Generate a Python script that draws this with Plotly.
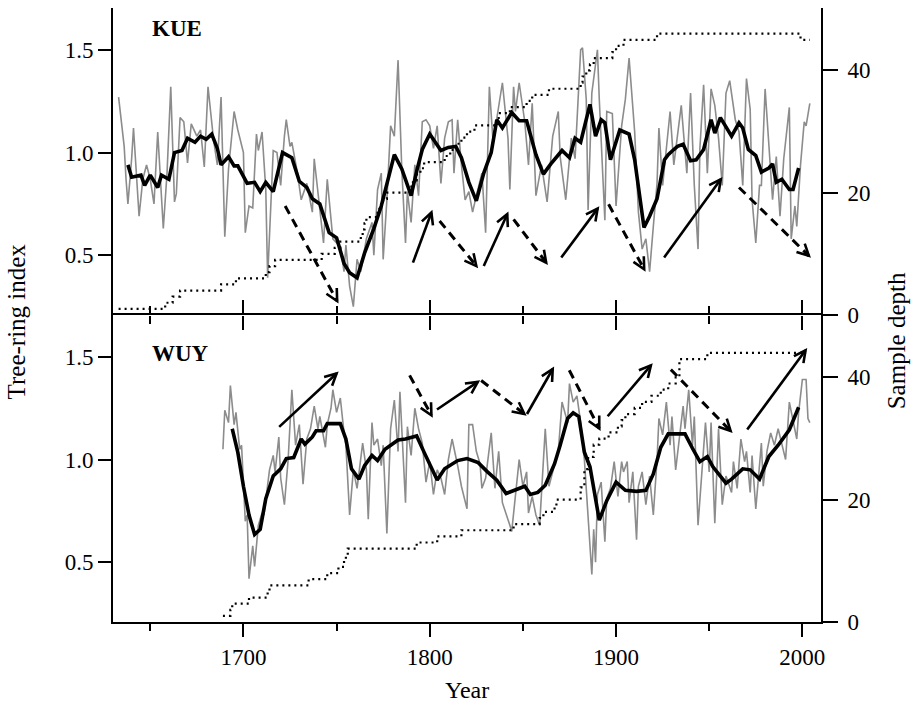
import math
import plotly.graph_objects as go

FONT = "Liberation Serif"

# ---------------- KUE (upper panel) ----------------
kue_years = [1633, 1636, 1637, 1638, 1640, 1641, 1644, 1646, 1648, 1650, 1652, 1654, 1657, 1659,
             1661, 1663, 1664, 1666, 1668, 1670, 1672, 1675, 1677, 1679, 1681, 1684, 1686, 1688,
             1690, 1692, 1695, 1697, 1700, 1701, 1703, 1705, 1707, 1708, 1710, 1712, 1713, 1716,
             1718, 1720, 1722, 1723, 1725, 1726, 1729, 1731, 1734, 1737, 1738, 1741, 1743, 1745,
             1748, 1752, 1754, 1755, 1757, 1759, 1761, 1763, 1766, 1769, 1770, 1772, 1774, 1775,
             1777, 1779, 1781, 1783, 1785, 1787, 1788, 1790, 1792, 1794, 1796, 1798, 1800, 1802,
             1804, 1806, 1808, 1810, 1812, 1813, 1815, 1817, 1819, 1821, 1823, 1825, 1828, 1830,
             1832, 1834, 1836, 1839, 1842, 1843, 1845, 1846, 1848, 1851, 1853, 1855, 1857, 1860,
             1863, 1866, 1869, 1870, 1873, 1876, 1878, 1881, 1882, 1884, 1885, 1887, 1890, 1891,
             1894, 1895, 1898, 1900, 1903, 1905, 1907, 1910, 1912, 1914, 1916, 1918, 1920, 1922,
             1923, 1925, 1927, 1929, 1931, 1933, 1935, 1938, 1940, 1942, 1944, 1945, 1947, 1949,
             1951, 1953, 1955, 1957, 1959, 1961, 1964, 1966, 1968, 1970, 1972, 1973, 1975, 1977,
             1978, 1980, 1982, 1984, 1986, 1988, 1990, 1993, 1994, 1996, 1997, 1999, 2001, 2002, 2004]
kue_index = [1.27, 1.03, 0.87, 0.75, 0.97, 1.12, 0.69, 0.87, 0.94, 0.87, 0.75, 1.10, 0.63, 0.90,
             1.32, 0.76, 0.80, 1.17, 1.15, 0.95, 1.14, 1.08, 1.11, 0.93, 1.32, 1.06, 0.94, 1.27,
             0.59, 0.92, 1.20, 1.11, 1.00, 0.61, 0.74, 0.73, 1.09, 1.01, 1.10, 0.82, 0.39, 1.01,
             1.00, 0.84, 1.08, 1.16, 1.03, 1.05, 0.90, 0.77, 0.85, 0.71, 0.97, 0.71, 0.56, 0.87,
             0.58, 0.54, 0.42, 0.55, 0.35, 0.25, 0.48, 0.42, 0.58, 0.66, 0.50, 0.82, 0.90, 0.48,
             0.77, 1.13, 1.08, 1.45, 0.92, 0.56, 0.81, 0.66, 0.94, 0.79, 1.15, 1.16, 1.13, 1.02,
             1.13, 0.85, 1.07, 1.15, 1.16, 0.90, 1.16, 0.94, 0.77, 0.81, 0.71, 0.79, 0.90, 0.61,
             1.32, 1.05, 1.17, 1.34, 1.07, 0.82, 1.32, 1.20, 1.34, 1.15, 0.94, 1.24, 0.79, 0.94,
             0.76, 1.08, 1.20, 0.98, 0.77, 1.07, 0.97, 1.50, 1.51, 1.26, 0.72, 1.29, 1.50, 1.26,
             0.67, 1.20, 1.19, 0.74, 1.13, 1.26, 1.46, 1.10, 0.71, 0.53, 0.58, 0.42, 0.64, 0.85,
             1.12, 0.84, 1.02, 1.20, 0.94, 1.10, 1.23, 0.90, 1.29, 0.84, 0.53, 1.02, 1.33, 0.90,
             1.31, 1.23, 1.07, 0.84, 1.29, 1.35, 1.16, 1.10, 0.84, 1.36, 1.21, 0.77, 0.56, 0.84,
             0.84, 1.31, 1.05, 0.77, 0.98, 0.69, 0.97, 1.22, 0.58, 0.74, 0.64, 0.94, 1.15, 1.13, 1.24]

kue_smooth_years = [1638, 1640, 1645, 1647, 1650, 1654, 1656, 1660, 1663, 1667, 1670, 1674, 1677,
                    1680, 1683, 1686, 1688, 1692, 1695, 1697, 1702, 1706, 1709, 1712, 1716, 1721,
                    1726, 1730, 1734, 1737, 1741, 1746, 1750, 1754, 1757, 1761, 1765, 1770, 1774,
                    1777, 1781, 1785, 1790, 1793, 1796, 1800, 1803, 1806, 1810, 1814, 1817, 1821,
                    1825, 1829, 1833, 1836, 1839, 1844, 1848, 1852, 1857, 1861, 1865, 1871, 1875,
                    1878, 1881, 1886, 1889, 1892, 1894, 1897, 1902, 1907, 1910, 1915, 1918, 1922,
                    1926, 1928, 1931, 1933, 1936, 1940, 1943, 1947, 1951, 1953, 1956, 1962, 1966,
                    1968, 1971, 1975, 1978, 1982, 1984, 1986, 1989, 1993, 1995, 1998]
kue_smooth = [0.94, 0.88, 0.89, 0.84, 0.89, 0.83, 0.89, 0.87, 1.00, 1.01, 1.07, 1.05, 1.08,
              1.065, 1.09, 1.02, 0.94, 0.98, 0.935, 0.935, 0.85, 0.855, 0.81, 0.855, 0.81, 1.00,
              0.975, 0.86, 0.83, 0.775, 0.75, 0.61, 0.585, 0.46, 0.415, 0.39, 0.51, 0.63, 0.74,
              0.85, 0.99, 0.92, 0.79, 0.91, 1.015, 1.09, 1.05, 1.01, 1.025, 1.03, 0.975, 0.855,
              0.765, 0.90, 1.00, 1.16, 1.12, 1.195, 1.155, 1.155, 0.99, 0.895, 0.945, 1.01, 0.975,
              1.07, 1.05, 1.235, 1.08, 1.16, 1.145, 0.965, 1.11, 1.09, 0.965, 0.635, 0.69, 0.775,
              0.965, 0.99, 1.015, 1.03, 1.04, 0.96, 0.965, 1.015, 1.16, 1.095, 1.17, 1.08, 1.145,
              1.12, 1.015, 0.985, 0.905, 0.925, 0.945, 0.855, 0.87, 0.82, 0.82, 0.925]

kue_depth_years = [1633, 1658, 1662, 1666, 1688, 1696, 1712, 1714, 1717, 1742, 1749, 1752, 1763,
                   1764, 1765, 1766, 1772, 1773, 1775, 1777, 1789, 1791, 1793, 1795, 1797, 1808,
                   1811, 1814, 1817, 1820, 1824, 1837, 1843, 1852, 1855, 1864, 1881, 1882, 1884,
                   1886, 1888, 1898, 1900, 1904, 1922, 1999, 2004]
kue_depth = [1, 2, 3, 4, 5, 6, 7, 8, 9, 10, 11, 12, 13, 14, 15, 16, 17, 18, 19, 20, 21, 22, 23,
             24, 25, 26, 27, 28, 29, 30, 31, 33, 34, 35, 36, 37, 38, 39, 40, 41, 42, 43, 44, 45,
             46, 45, 45]

# arrows: (tail year, tail index, head year, head index, dashed)
kue_arrows = [(1722.4, 0.740, 1750.3, 0.277, True),
              (1791.0, 0.464, 1800.9, 0.708, False),
              (1805.3, 0.667, 1825.0, 0.448, True),
              (1829.0, 0.448, 1841.6, 0.700, False),
              (1845.0, 0.675, 1862.5, 0.464, True),
              (1870.6, 0.489, 1890.1, 0.727, False),
              (1896.0, 0.748, 1915.1, 0.432, True),
              (1925.8, 0.489, 1956.2, 0.870, False),
              (1966.0, 0.830, 2003.5, 0.497, True)]

# ---------------- WUY (lower panel) ----------------
wuy_years = [1689, 1690, 1692, 1693, 1695, 1696, 1698, 1699, 1701, 1702, 1703, 1705, 1706, 1708,
             1710, 1711, 1714, 1716, 1717, 1719, 1720, 1722, 1724, 1726, 1728, 1730, 1732, 1734,
             1736, 1738, 1740, 1741, 1744, 1745, 1747, 1748, 1750, 1752, 1754, 1755, 1757, 1759,
             1761, 1764, 1766, 1767, 1769, 1770, 1772, 1774, 1775, 1777, 1779, 1781, 1783, 1784,
             1787, 1788, 1790, 1792, 1794, 1796, 1798, 1800, 1802, 1804, 1806, 1808, 1810, 1812,
             1815, 1817, 1820, 1821, 1823, 1825, 1827, 1828, 1830, 1833, 1835, 1837, 1839, 1841,
             1843, 1844, 1846, 1848, 1850, 1852, 1853, 1855, 1857, 1859, 1862, 1864, 1866, 1869,
             1871, 1874, 1875, 1877, 1879, 1881, 1883, 1885, 1887, 1888, 1889, 1890, 1892, 1894,
             1895, 1897, 1899, 1901, 1903, 1904, 1906, 1907, 1909, 1911, 1912, 1914, 1916, 1918,
             1920, 1922, 1923, 1925, 1927, 1929, 1930, 1932, 1934, 1936, 1937, 1939, 1941, 1942,
             1944, 1946, 1948, 1950, 1951, 1953, 1955, 1957, 1959, 1962, 1963, 1965, 1967, 1969,
             1970, 1972, 1973, 1975, 1978, 1979, 1981, 1983, 1985, 1987, 1989, 1991, 1993, 1995,
             1997, 1998, 2000, 2002, 2003, 2004]
wuy_index = [1.05, 1.24, 1.18, 1.36, 1.17, 1.23, 1.05, 1.07, 0.70, 0.73, 0.42, 0.58, 0.48, 0.68,
             0.74, 0.73, 0.95, 1.02, 0.94, 1.11, 0.91, 0.78, 1.00, 1.34, 1.07, 1.17, 0.88, 1.10,
             1.15, 1.26, 1.15, 1.21, 1.06, 1.17, 1.25, 1.34, 1.23, 1.30, 1.13, 1.07, 0.73, 0.95,
             0.86, 1.08, 0.95, 0.71, 1.18, 1.07, 1.10, 0.97, 1.07, 0.64, 1.15, 1.29, 1.04, 1.33,
             0.79, 1.16, 1.02, 1.25, 1.15, 1.08, 0.89, 0.99, 0.83, 0.95, 0.91, 0.83, 1.00, 1.10,
             0.97, 0.87, 0.76, 1.17, 1.17, 1.04, 0.98, 0.86, 0.91, 1.13, 0.86, 1.04, 0.79, 0.74,
             0.68, 0.65, 0.84, 1.00, 0.87, 0.94, 0.74, 0.82, 0.73, 0.68, 1.15, 0.87, 0.94, 1.04,
             1.28, 1.18, 1.37, 1.28, 1.31, 1.18, 1.00, 0.74, 0.44, 0.66, 0.50, 0.83, 0.89, 0.60,
             0.81, 0.86, 0.99, 0.82, 0.99, 0.94, 0.99, 0.79, 0.94, 0.61, 0.87, 0.94, 0.78, 0.92,
             0.73, 1.00, 1.20, 1.12, 1.28, 1.07, 1.21, 0.95, 1.10, 1.26, 1.15, 1.34, 1.07, 1.21,
             0.68, 0.95, 1.18, 0.94, 1.18, 0.69, 1.15, 0.78, 0.92, 0.84, 0.99, 0.86, 1.10, 0.99,
             1.04, 0.84, 1.02, 0.76, 1.08, 0.87, 1.04, 1.13, 1.07, 1.15, 1.08, 1.00, 1.28, 1.18,
             1.10, 1.23, 1.39, 1.39, 1.20, 1.18]

wuy_smooth_years = [1694, 1697, 1700, 1703, 1706, 1709, 1712, 1716, 1720, 1723, 1727, 1731, 1733,
                    1737, 1739, 1743, 1745, 1752, 1755, 1758, 1762, 1765, 1769, 1772, 1776, 1779,
                    1783, 1787, 1793, 1797, 1801, 1804, 1808, 1815, 1820, 1826, 1831, 1836, 1841,
                    1845, 1851, 1854, 1858, 1862, 1867, 1870, 1874, 1877, 1880, 1883, 1886, 1891,
                    1895, 1900, 1905, 1911, 1916, 1920, 1924, 1928, 1937, 1941, 1945, 1949, 1952,
                    1959, 1962, 1968, 1972, 1977, 1982, 1987, 1993, 1998]
wuy_smooth = [1.15, 1.035, 0.87, 0.73, 0.635, 0.66, 0.81, 0.92, 0.955, 1.005, 1.01, 1.10, 1.075,
              1.11, 1.14, 1.14, 1.175, 1.175, 1.10, 0.955, 0.905, 0.97, 1.02, 0.995, 1.05, 1.07,
              1.095, 1.10, 1.115, 1.035, 0.955, 0.90, 0.955, 0.995, 1.005, 0.985, 0.94, 0.90,
              0.835, 0.85, 0.87, 0.83, 0.84, 0.875, 0.98, 1.07, 1.20, 1.228, 1.21, 1.036, 0.965,
              0.705, 0.80, 0.89, 0.85, 0.845, 0.85, 0.93, 1.06, 1.125, 1.125, 1.055, 0.99, 1.015,
              0.965, 0.885, 0.905, 0.955, 0.95, 0.905, 1.015, 1.07, 1.145, 1.255]

wuy_depth_years = [1689, 1693, 1694, 1703, 1713, 1714, 1735, 1745, 1751, 1754, 1755, 1756, 1793,
                   1804, 1817, 1845, 1859, 1861, 1867, 1868, 1881, 1883, 1885, 1888, 1891, 1896,
                   1901, 1903, 1905, 1910, 1914, 1919, 1924, 1928, 1932, 1934, 1949, 2002]
wuy_depth = [1, 2, 3, 4, 5, 6, 7, 8, 9, 10, 11, 12, 13, 14, 15, 16, 17, 18, 19, 20, 22, 25, 27,
             29, 30, 31, 32, 33, 34, 35, 36, 37, 38, 39, 40, 43, 44, 44]

wuy_arrows = [(1719.2, 1.159, 1750.0, 1.419, False),
              (1789.2, 1.410, 1800.9, 1.216, True),
              (1803.9, 1.244, 1825.8, 1.378, False),
              (1827.6, 1.385, 1850.8, 1.222, True),
              (1852.2, 1.222, 1866.0, 1.441, False),
              (1874.9, 1.435, 1891.0, 1.151, True),
              (1895.5, 1.211, 1918.7, 1.459, False),
              (1929.4, 1.438, 1961.5, 1.139, True),
              (1970.4, 1.146, 2001.7, 1.532, False)]

x_range = [1630, 2010]
idx_range = [0.209, 1.704]
depth_range = [0, 50.2]
idx_ticks = [0.5, 1.0, 1.5]
depth_ticks = [0, 20, 40]

W, H = 914, 715
ML, MR, MT, MB = 113, 93, 8, 93
GREY = "#8c8c8c"

fig = go.Figure()

def add_panel(years, idx, syears, smooth, dyears, depth, xa, ya, yd):
    fig.add_trace(go.Scatter(x=years, y=idx, mode="lines", xaxis=xa, yaxis=ya,
                             line=dict(color=GREY, width=1.6), showlegend=False, hoverinfo="skip"))
    fig.add_trace(go.Scatter(x=dyears, y=depth, mode="lines", xaxis=xa, yaxis=yd,
                             line=dict(color="black", width=2.2, dash="2px,4px", shape="hv"),
                             showlegend=False, hoverinfo="skip"))
    fig.add_trace(go.Scatter(x=syears, y=smooth, mode="lines", xaxis=xa, yaxis=ya,
                             line=dict(color="black", width=3.6), showlegend=False, hoverinfo="skip"))

add_panel(kue_years, kue_index, kue_smooth_years, kue_smooth, kue_depth_years, kue_depth, "x", "y", "y2")
add_panel(wuy_years, wuy_index, wuy_smooth_years, wuy_smooth, wuy_depth_years, wuy_depth, "x2", "y3", "y4")

# pixel scales (used only to give arrowheads a fixed on-screen size/angle)
sx = (W - ML - MR) / (x_range[1] - x_range[0])
sy = ((H - MT - MB) / 2) / (idx_range[1] - idx_range[0])
HEAD_LEN = 13.0
HEAD_ANG = math.radians(27)

shapes = []

def add_arrows(arrows, xref, yref):
    for (x0, y0, x1, y1, dashed) in arrows:
        shapes.append(dict(type="line", xref=xref, yref=yref, x0=x0, y0=y0, x1=x1, y1=y1,
                           line=dict(color="black", width=3 if dashed else 2.6,
                                     dash="9px,6px" if dashed else "solid"), layer="above"))
        ang = math.atan2((y1 - y0) * sy, (x1 - x0) * sx)
        pts = []
        for s in (1, -1):
            a = ang + math.pi + s * HEAD_ANG
            pts.append((x1 + HEAD_LEN * math.cos(a) / sx, y1 + HEAD_LEN * math.sin(a) / sy))
        path = "M {:.4f},{:.5f} L {:.4f},{:.5f} L {:.4f},{:.5f}".format(
            pts[0][0], pts[0][1], x1, y1, pts[1][0], pts[1][1])
        shapes.append(dict(type="path", xref=xref, yref=yref, path=path,
                           line=dict(color="black", width=2.6), layer="above"))

add_arrows(kue_arrows, "x", "y")
add_arrows(wuy_arrows, "x2", "y3")

annotations = [
    dict(text="<b>KUE</b>", x=0.0904, y=0.9658, xref="paper", yref="paper", showarrow=False,
         xanchor="center", yanchor="middle", font=dict(family=FONT, size=23, color="black")),
    dict(text="<b>WUY</b>", x=0.0958, y=0.4365, xref="paper", yref="paper", showarrow=False,
         xanchor="center", yanchor="middle", font=dict(family=FONT, size=23, color="black")),
    dict(text="Tree-ring index", x=-0.1366, y=0.49, xref="paper", yref="paper", showarrow=False,
         textangle=-90, xanchor="center", yanchor="middle", font=dict(family=FONT, size=25, color="black")),
    dict(text="Sample depth", x=1.1078, y=0.4577, xref="paper", yref="paper", showarrow=False,
         textangle=-90, xanchor="center", yanchor="middle", font=dict(family=FONT, size=25, color="black")),
    dict(text="Year", x=0.5, y=-0.11, xref="paper", yref="paper", showarrow=False,
         xanchor="center", yanchor="middle", font=dict(family=FONT, size=24, color="black")),
]

tickfont = dict(family=FONT, size=23, color="black")
common_x = dict(range=x_range, showgrid=False, zeroline=False, linewidth=2,
                linecolor="black", ticks="outside", tickwidth=2, tickcolor="black",
                tick0=1700, dtick=100, automargin=False)
common_idx = dict(range=idx_range, showgrid=False, zeroline=False, showline=True, linewidth=2,
                  linecolor="black", ticks="outside", ticklen=13, tickwidth=2, tickcolor="black",
                  tickvals=idx_ticks, tickformat=".1f", tickfont=tickfont, automargin=False)
common_dep = dict(range=depth_range, showgrid=False, zeroline=False, showline=True, linewidth=2,
                  linecolor="black", ticks="outside", ticklen=15, tickwidth=2, tickcolor="black",
                  tickvals=depth_ticks, tickfont=tickfont, side="right", automargin=False,
                  ticklabelstandoff=5)

fig.update_layout(
    width=W, height=H,
    margin=dict(l=ML, r=MR, t=MT, b=MB),
    paper_bgcolor="white", plot_bgcolor="white",
    showlegend=False,
    xaxis=dict(**common_x, anchor="y", domain=[0, 1], ticklen=14, showticklabels=False,
               showline=False,
               minor=dict(dtick=50, ticklen=8, tickwidth=2, tickcolor="black", ticks="outside")),
    xaxis2=dict(**common_x, anchor="y3", domain=[0, 1], matches="x", ticklen=13, mirror="ticks",
                showline=True, tickfont=tickfont,
                minor=dict(dtick=50, ticklen=7, tickwidth=2, tickcolor="black", ticks="outside")),
    yaxis=dict(**common_idx, domain=[0.5, 1], anchor="x"),
    yaxis2=dict(**common_dep, overlaying="y", anchor="x"),
    yaxis3=dict(**common_idx, domain=[0, 0.5], anchor="x2"),
    yaxis4=dict(**common_dep, overlaying="y3", anchor="x2"),
    shapes=shapes,
    annotations=annotations,
)

fig.write_html("out.html")
